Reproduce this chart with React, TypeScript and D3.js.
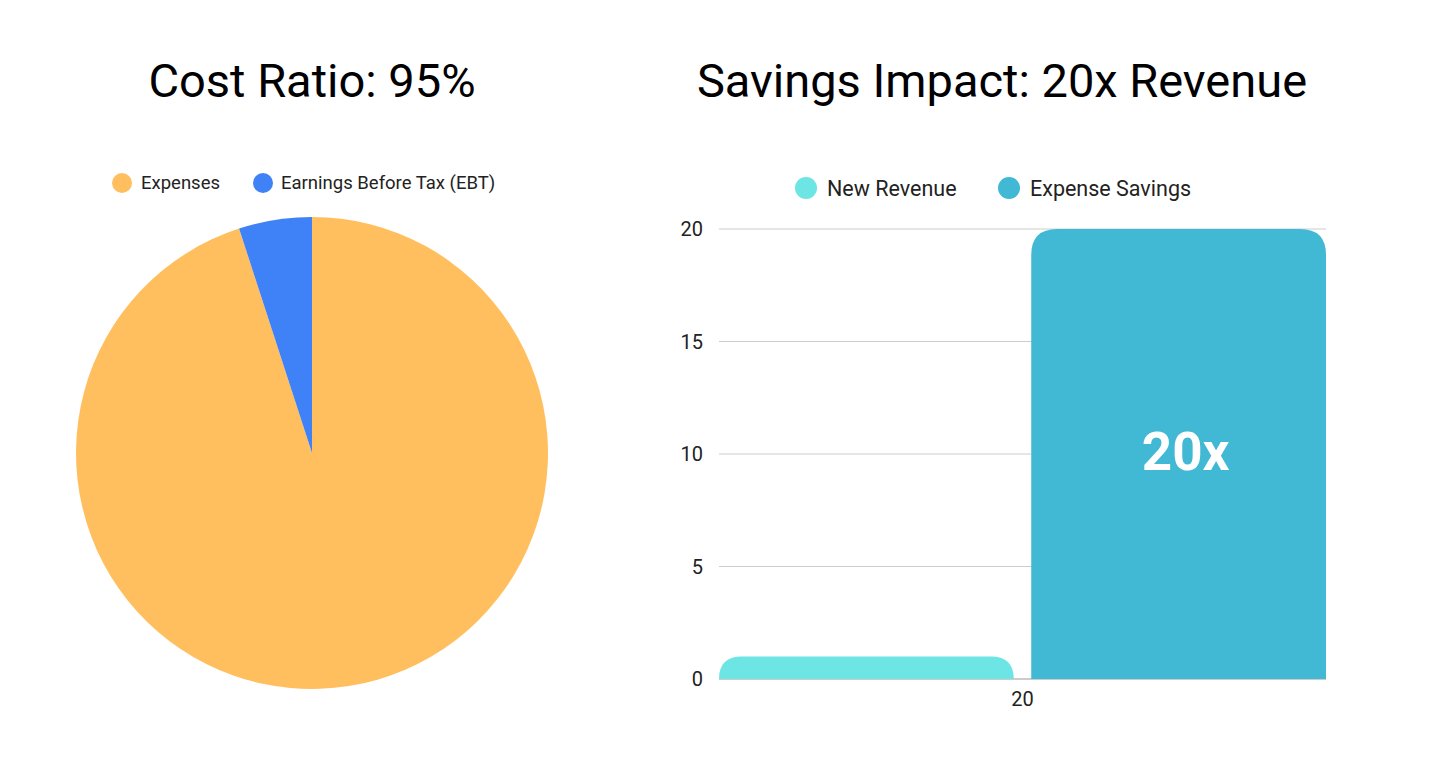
import React from "react";
import * as d3 from "d3";

const pieLabels = ["Expenses", "Earnings Before Tax (EBT)"];
const pieValues = [95, 5];
const pieColors = ["#FFBF5E", "#3F81F6"];

const barCategories = ["20"];
const seriesNames = ["New Revenue", "Expense Savings"];
const newRevenue = [1];
const expenseSavings = [20];
const seriesColors = ["#6CE5E4", "#41B8D4"];
const yTicks = [0, 5, 10, 15, 20];
const barLabel = "20x";

const FONT = "Roboto, 'Noto Sans', sans-serif";

function topRoundedRect(x: number, y: number, w: number, h: number, r: number) {
  const rr = Math.min(r, h, w / 2);
  const ry = Math.min(r, h);
  return `M${x},${y + h} L${x},${y + ry} Q${x},${y} ${x + rr},${y} L${x + w - rr},${y} Q${x + w},${y} ${x + w},${y + ry} L${x + w},${y + h} Z`;
}

export default function App() {
  const W = 1430;
  const H = 761;

  // Pie
  const cx = 312, cy = 453, R = 236;
  const pie = d3.pie<number>().sort(null).value((d) => d)(pieValues);
  const arc = d3.arc<d3.PieArcDatum<number>>().innerRadius(0).outerRadius(R);

  // Bars
  const x0 = d3.scaleBand().domain(barCategories).range([719, 1326]).paddingInner(0).paddingOuter(0);
  const x1 = d3.scaleBand().domain(seriesNames).range([0, x0.bandwidth()]).paddingInner(0.056).paddingOuter(0);
  const y = d3.scaleLinear().domain([0, 20]).range([679, 229]);
  const seriesData = [newRevenue, expenseSavings];

  return (
    <svg width={W} height={H} style={{ position: "absolute", left: 0, top: 0, background: "#fff" }} fontFamily={FONT}>
      <rect width={W} height={H} fill="#fff" />
      {/* Pie chart */}
      <text x={312} y={97} textAnchor="middle" fontSize={47} fill="#000">Cost Ratio: 95%</text>
      {[[122, 141], [263, 281]].map(([mx, tx], i) => (
        <g key={i}>
          <circle cx={mx} cy={183} r={10} fill={pieColors[i]} />
          <text x={tx} y={183} dy="0.35em" fontSize={18.5} fill="#222">{pieLabels[i]}</text>
        </g>
      ))}
      <g transform={`translate(${cx},${cy})`}>
        {pie.map((p, i) => (
          <path key={i} d={arc(p) || ""} fill={pieColors[i]} />
        ))}
      </g>

      {/* Bar chart */}
      <text x={1002} y={97} textAnchor="middle" fontSize={47} fill="#000">Savings Impact: 20x Revenue</text>
      {[[806, 827], [1009, 1030]].map(([mx, tx], i) => (
        <g key={i}>
          <circle cx={mx} cy={188} r={11} fill={seriesColors[i]} />
          <text x={tx} y={188} dy="0.35em" fontSize={21.5} fill="#222">{seriesNames[i]}</text>
        </g>
      ))}
      {yTicks.map((t) => (
        <g key={t}>
          <line x1={719} x2={1326} y1={y(t)} y2={y(t)} stroke={t === 0 ? "#999" : "#ccc"} strokeWidth={1} />
          <text x={703} y={y(t)} dy="0.35em" textAnchor="end" fontSize={20} fill="#222">{t}</text>
        </g>
      ))}
      {barCategories.map((c, ci) => (
        <g key={c}>
          {seriesNames.map((s, si) => {
            const bx = (x0(c) || 0) + (x1(s) || 0);
            const v = seriesData[si][ci];
            const top = y(v);
            return (
              <path key={s} d={topRoundedRect(bx, top, x1.bandwidth(), y(0) - top, 26)} fill={seriesColors[si]} />
            );
          })}
          <text x={(x0(c) || 0) + x0.bandwidth() / 2} y={706} textAnchor="middle" fontSize={20} fill="#222">{c}</text>
          <text
            x={(x0(c) || 0) + (x1(seriesNames[1]) || 0) + x1.bandwidth() / 2 + 7}
            y={y(10) - 3}
            dy="0.35em"
            textAnchor="middle"
            fontSize={53}
            fontWeight="bold"
            fill="#fff"
          >
            {barLabel}
          </text>
        </g>
      ))}
    </svg>
  );
}
